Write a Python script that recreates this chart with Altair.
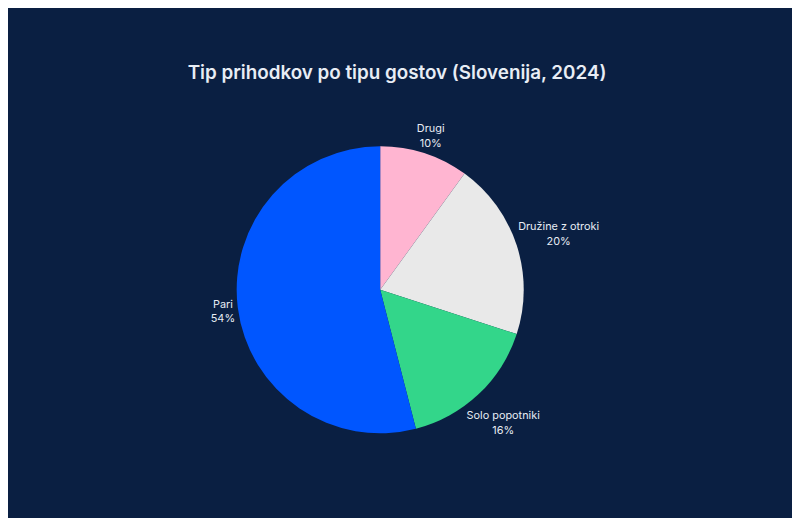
import altair as alt
import pandas as pd

categories = ["Drugi", "Družine z otroki", "Solo popotniki", "Pari"]
shares = [10, 20, 16, 54]
colors = ["#ffb5d1", "#e9e9e9", "#33d68a", "#0056ff"]
order = [1, 2, 3, 4]

BG = "#0a1f42"
TXT = "#e8edf5"

W, H = 740, 384
R = 145

df = pd.DataFrame({"cat": categories, "share": shares, "ord": order})

base = alt.Chart(df)

arcs = base.mark_arc(radius=R, stroke=None).encode(
    theta=alt.Theta("share:Q", stack=True),
    order=alt.Order("ord:Q", sort="ascending"),
    color=alt.Color("cat:N", scale=alt.Scale(domain=categories, range=colors), legend=None),
)

labels = base.transform_joinaggregate(
    total="sum(share)"
).transform_window(
    cum="sum(share)", sort=[alt.SortField("ord")], frame=[None, 0]
).transform_calculate(
    mid="2*PI*(datum.cum - datum.share/2)/datum.total",
    label="datum.cat + '\\n' + datum.share + '%'",
).transform_calculate(
    lr=f"{R + 4} + length(datum.cat)*2.4*abs(sin(datum.mid)) + 13*abs(cos(datum.mid))"
).transform_calculate(
    lx=f"{W / 2} + datum.lr*sin(datum.mid)",
    ly=f"{H / 2} - datum.lr*cos(datum.mid)",
).mark_text(
    lineBreak="\n", align="center", baseline="middle", lineHeight=15,
    fontSize=11, font="Inter", color=TXT, dy=-5,
).encode(
    x=alt.X("lx:Q", scale=None),
    y=alt.Y("ly:Q", scale=None),
    text="label:N",
)

chart = alt.layer(arcs, labels).properties(
    width=W,
    height=H,
    padding={"left": 6, "top": 90, "right": 46, "bottom": 36},
    autosize=alt.AutoSizeParams(type="none"),
    background=BG,
    title=alt.TitleParams(
        "Tip prihodkov po tipu gostov (Slovenija, 2024)",
        font="Inter", fontSize=19, fontWeight=600, color=TXT,
        anchor="middle", dx=17, offset=17,
    ),
).configure_view(stroke=None)

chart.save("out.html", embed_options={"renderer": "svg", "actions": False})
